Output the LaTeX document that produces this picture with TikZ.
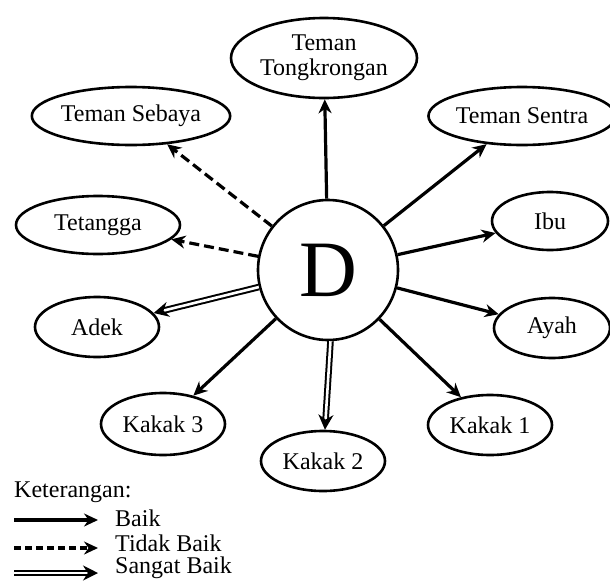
\documentclass[tikz,border=0pt]{standalone}
\usepackage{fontspec}
\setmainfont{Liberation Serif}
\usetikzlibrary{shapes.geometric,arrows.meta}
\begin{document}
\begin{tikzpicture}[x=1pt,y=-1pt,
  el/.style={draw,ellipse,line width=2.6pt,inner sep=0pt,font=\fontsize{24}{27}\selectfont,align=center},
  rel/.style={line width=3.2pt,-{Stealth[length=14pt,width=13pt]}},
  bad/.style={rel,dash pattern=on 10pt off 5pt},
  good/.style={line width=2pt,double,double distance=2.6pt,-{Stealth[length=15pt,width=15pt]}},
  lbl/.style={anchor=west,inner sep=0pt,font=\fontsize{24}{27}\selectfont}]
\useasboundingbox (0,0) rectangle (610,584);
\node[draw,circle,line width=2.6pt,minimum size=140pt,inner sep=0pt,font=\fontsize{80}{80}\selectfont] (D) at (328,270) {D};
\node[el,minimum width=186pt,minimum height=80pt] (tt) at (324,58) {Teman\\[-2pt]Tongkrongan};
\node[el,minimum width=192pt,minimum height=58pt] (ts) at (131,116) {Teman Sebaya};
\node[el,minimum width=180pt,minimum height=58pt] (tsn) at (522,116) {Teman Sentra};
\node[el,minimum width=164pt,minimum height=58pt] (tg) at (98,225) {Tetangga};
\node[el,minimum width=116pt,minimum height=58pt] (ibu) at (550,221) {Ibu};
\node[el,minimum width=124pt,minimum height=60pt] (adek) at (97,327) {Adek};
\node[el,minimum width=116pt,minimum height=60pt] (ayah) at (552,328) {Ayah};
\node[el,minimum width=124pt,minimum height=62pt] (k3) at (163,424) {Kakak 3};
\node[el,minimum width=124pt,minimum height=60pt] (k2) at (323,461) {Kakak 2};
\node[el,minimum width=124pt,minimum height=60pt] (k1) at (490,425) {Kakak 1};
\draw[rel] (D) -- (tt);
\draw[bad] (D) -- (ts);
\draw[rel] (D) -- (tsn);
\draw[bad] (D) -- (tg);
\draw[rel] (D) -- (ibu);
\draw[good] (D) -- (adek);
\draw[rel] (D) -- (ayah);
\draw[rel] (D) -- (k3);
\draw[good] (D.-88) -- (k2);
\draw[rel] (D) -- (k1);
\node[lbl] (ket) at (14,492) {Keterangan:};
\coordinate (a1) at (14,520); \coordinate (b1) at (98,520);
\coordinate (a2) at (14,548); \coordinate (b2) at (98,548);
\coordinate (a3) at (14,573); \coordinate (b3) at (98,573);
\draw[rel] (a1) -- (b1);
\draw[bad,dash pattern=on 7pt off 4pt] (a2) -- (b2);
\draw[good] (a3) -- (b3);
\node[lbl] (l1) at (115,518) {Baik};
\node[lbl] (l2) at (115,543) {Tidak Baik};
\node[lbl] (l3) at (115,568) {Sangat Baik};
\end{tikzpicture}
\end{document}
